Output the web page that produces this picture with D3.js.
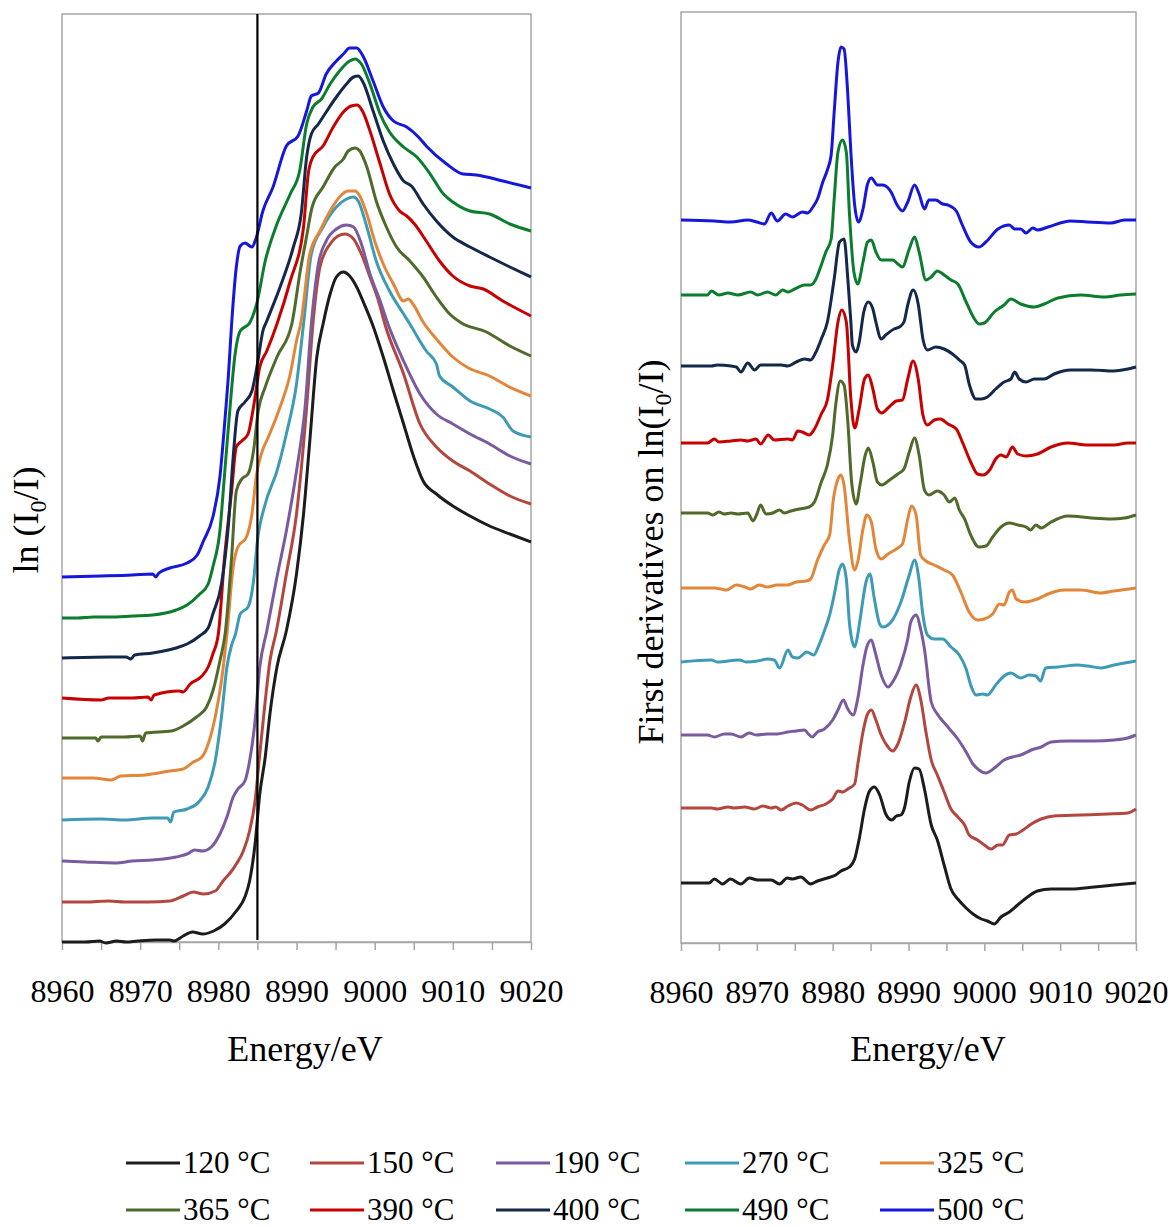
<!DOCTYPE html>
<html><head><meta charset="utf-8">
<script src="https://cdn.jsdelivr.net/npm/d3@7"></script>
<style>
body{margin:0;background:#fff}
text{font-family:"Liberation Serif","Times New Roman",serif;fill:#000}
</style>
</head><body>
<svg id="chart" width="1171" height="1227"></svg>
<script>
// ---------------- data ----------------
const seriesLabels = ["120 °C","150 °C","190 °C","270 °C","325 °C","365 °C","390 °C","400 °C","490 °C","500 °C"];
const seriesColors = ["#1c1c1c","#b3473f","#7a5c9e","#3d9bb5","#e2873a","#4f6a2b","#c80000","#13284a","#0b7d2d","#1717dc"];
const energyTicks = [8960,8970,8980,8990,9000,9010,9020];
const edgeEnergy = 8985;

// left panel: normalised ln(I0/I), stacked (arbitrary units)
const xanes120 = [[8960,0.00],[8963,0.00],[8964.8,0.01],[8965.6,-0.01],[8967,0.01],[8968.2,0.00],[8969.7,0.01],[8972,0.02],[8973.8,0.02],[8974.3,0.01],[8975.5,0.06],[8976.7,0.10],[8978,0.08],[8979.4,0.11],[8980.8,0.18],[8982.3,0.31],[8983.4,0.45],[8984,0.61],[8984.7,0.98],[8985.3,1.48],[8986,1.85],[8986.6,2.28],[8987.5,2.75],[8988.7,3.11],[8990,3.68],[8990.9,4.28],[8991.7,5.01],[8992.6,5.85],[8993.4,6.18],[8994.3,6.48],[8995.1,6.65],[8996,6.70],[8996.8,6.66],[8997.7,6.55],[8998.5,6.41],[8999.7,6.18],[9001.1,5.85],[9002.4,5.51],[9003.7,5.18],[9005,4.85],[9006.2,4.61],[9007.9,4.48],[9010,4.36],[9012.2,4.26],[9014.7,4.16],[9017.3,4.08],[9020,4.00]];
const xanes150 = [[8960,0.40],[8963,0.40],[8966,0.41],[8968,0.40],[8971,0.40],[8973.8,0.41],[8975.5,0.46],[8976.8,0.50],[8978.1,0.48],[8979.6,0.51],[8980.6,0.61],[8981.7,0.71],[8982.3,0.78],[8983.2,0.91],[8984,1.11],[8984.7,1.41],[8985.3,1.88],[8986,2.41],[8986.6,2.81],[8987.4,3.10],[8988.7,3.68],[8990,4.28],[8991.3,5.35],[8992.1,6.18],[8993,6.75],[8994.3,6.98],[8995.3,7.06],[8996.2,7.08],[8997.3,7.03],[8998.3,6.88],[8999.4,6.65],[9000.5,6.41],[9001.3,6.18],[9003.7,5.68],[9005.8,5.18],[9007.9,4.95],[9010,4.81],[9012.2,4.71],[9014.7,4.58],[9017.3,4.46],[9020,4.38]];
const xanes190 = [[8960,0.81],[8963,0.80],[8966.8,0.79],[8969,0.81],[8971.6,0.82],[8974.6,0.85],[8976,0.88],[8977,0.92],[8978,0.91],[8979.1,0.95],[8980.2,1.08],[8981.1,1.25],[8981.9,1.45],[8982.5,1.53],[8983.4,1.61],[8984,1.81],[8984.7,2.21],[8985.3,2.75],[8986.2,3.11],[8987.5,3.65],[8988.7,4.11],[8990,4.71],[8991.1,5.35],[8991.9,6.18],[8992.8,6.78],[8993.8,7.01],[8995.1,7.13],[8996.4,7.17],[8997.3,7.15],[8998.3,6.98],[8999.4,6.68],[9000.7,6.41],[9001.7,6.18],[9003.7,5.81],[9005.8,5.48],[9007.9,5.28],[9010,5.18],[9012.2,5.08],[9014.7,4.98],[9017.3,4.86],[9020,4.78]];
const xanes270 = [[8960,1.22],[8965,1.23],[8968,1.22],[8971.6,1.24],[8973.5,1.24],[8973.9,1.20],[8974.3,1.30],[8976,1.33],[8977.5,1.40],[8978.7,1.55],[8979.6,1.81],[8980.4,2.25],[8981.1,2.75],[8981.7,2.97],[8982.2,3.08],[8982.8,3.28],[8983.8,3.35],[8984.5,3.61],[8985,4.01],[8986,4.38],[8987.5,4.71],[8988.7,5.08],[8990,5.58],[8990.9,6.18],[8991.9,6.88],[8993.4,7.15],[8995.1,7.35],[8996.4,7.43],[8997.3,7.45],[8997.9,7.41],[8999,7.15],[9000.2,6.81],[9001.9,6.51],[9003.7,6.28],[9004.5,6.18],[9006.6,5.91],[9007.9,5.78],[9008.3,5.66],[9010,5.55],[9012.2,5.41],[9014.7,5.33],[9016.4,5.25],[9017.7,5.11],[9020,5.05]];
const xanes325 = [[8960,1.64],[8964,1.64],[8966.3,1.62],[8967.5,1.66],[8970.6,1.67],[8973.8,1.71],[8975.5,1.73],[8976.8,1.80],[8977.9,1.85],[8978.7,1.98],[8979.6,2.25],[8980.4,2.61],[8981.1,3.08],[8981.9,3.75],[8982.5,3.95],[8983.6,4.05],[8984.3,4.28],[8984.9,4.68],[8985.5,4.88],[8986.4,5.05],[8987.9,5.35],[8989.2,5.68],[8990,6.01],[8990.6,6.21],[8991.7,6.88],[8993,7.11],[8994.3,7.31],[8995.5,7.45],[8996.6,7.51],[8997.5,7.51],[8998.1,7.46],[8999,7.28],[9000,7.01],[9001.1,6.78],[9002.4,6.58],[9003.7,6.41],[9004.3,6.43],[9004.9,6.38],[9006.2,6.20],[9008,6.02],[9010,5.85],[9012,5.74],[9014.7,5.66],[9017,5.56],[9020,5.46]];
const xanes365 = [[8960,2.04],[8964.3,2.04],[8964.6,2.01],[8965,2.05],[8968,2.05],[8970,2.06],[8970.3,2.01],[8970.7,2.09],[8974,2.11],[8975.5,2.16],[8977.2,2.25],[8978.5,2.35],[8979.3,2.51],[8980.2,2.81],[8980.9,3.10],[8981.7,3.85],[8982.3,4.51],[8983,4.63],[8983.8,4.68],[8984.5,4.91],[8985.1,5.31],[8986,5.55],[8987.5,5.85],[8989.4,6.18],[8990.5,6.72],[8991.3,7.06],[8992,7.35],[8993.4,7.55],[8994.9,7.75],[8996,7.83],[8996.6,7.91],[8997.5,7.94],[8998.1,7.91],[8999,7.75],[9000.2,7.41],[9001.5,7.15],[9002.8,6.95],[9004.5,6.81],[9006.2,6.65],[9007.9,6.45],[9009.6,6.28],[9011.1,6.19],[9014.3,6.10],[9017.3,5.96],[9020,5.86]];
const xanes390 = [[8960,2.44],[8965,2.42],[8966,2.44],[8969,2.44],[8971,2.45],[8971.4,2.42],[8971.8,2.47],[8975,2.51],[8975.5,2.50],[8976.4,2.58],[8977.9,2.66],[8978.7,2.75],[8979.3,2.88],[8980,3.08],[8980.8,3.85],[8981.7,4.51],[8982.3,4.95],[8983,5.01],[8983.8,5.08],[8984.5,5.35],[8985.3,5.75],[8986.2,5.91],[8987.5,6.18],[8989.2,6.61],[8990.9,7.15],[8991.5,7.68],[8992.1,7.85],[8993.4,7.96],[8994.7,8.15],[8996,8.30],[8997,8.36],[8997.8,8.37],[8998.5,8.30],[8999.4,8.11],[9000.7,7.78],[9001.9,7.48],[9003.2,7.31],[9004.1,7.26],[9005.1,7.18],[9006.6,7.01],[9008.3,6.81],[9010,6.66],[9012.2,6.56],[9013.9,6.53],[9016.4,6.41],[9020,6.26]];
const xanes400 = [[8960,2.84],[8966,2.85],[8968.2,2.85],[8968.8,2.83],[8969.3,2.87],[8971.6,2.89],[8974.6,2.94],[8976,2.98],[8977.6,3.06],[8978.7,3.14],[8979.3,3.28],[8980.4,3.58],[8981.3,4.18],[8981.9,4.85],[8982.5,5.31],[8983.4,5.40],[8984.3,5.51],[8985,5.78],[8985.7,6.11],[8986.2,6.21],[8987.9,6.55],[8989.6,6.95],[8990.6,7.28],[8991.3,7.85],[8991.9,8.08],[8992.8,8.18],[8993.8,8.30],[8995.1,8.45],[8996.4,8.58],[8997.3,8.65],[8997.9,8.66],[8998.5,8.60],[8999.8,8.31],[9001.1,8.01],[9002.4,7.78],[9003.7,7.61],[9004.7,7.56],[9006.2,7.38],[9007.9,7.21],[9010,7.05],[9012.2,6.95],[9014.7,6.85],[9017.3,6.75],[9020,6.65]];
const xanes490 = [[8960,3.24],[8962,3.24],[8964,3.25],[8966,3.25],[8969,3.26],[8971.6,3.27],[8974.6,3.32],[8976,3.37],[8977.5,3.47],[8978.7,3.58],[8979.3,3.75],[8980.2,4.11],[8980.8,4.68],[8981.5,5.35],[8982.1,5.85],[8982.8,6.11],[8984,6.19],[8984.9,6.38],[8986,6.81],[8987.5,7.18],[8989.2,7.48],[8990.4,7.71],[8991.3,8.18],[8992.1,8.35],[8993.2,8.43],[8994.3,8.58],[8995.5,8.71],[8996.8,8.81],[8997.5,8.83],[8998.3,8.78],[8999.4,8.58],[9000.7,8.28],[9001.9,8.10],[9003.7,7.95],[9005.4,7.85],[9007.1,7.68],[9008.8,7.48],[9010,7.40],[9012.2,7.31],[9014.7,7.28],[9017.3,7.18],[9020,7.11]];
const xanes500 = [[8960,3.65],[8965,3.66],[8969,3.67],[8971.6,3.68],[8972,3.65],[8972.4,3.69],[8973.8,3.74],[8976,3.79],[8977.3,3.87],[8978.1,4.01],[8979.3,4.25],[8980.2,4.65],[8980.8,5.18],[8981.3,5.68],[8981.7,6.18],[8982.3,6.75],[8982.8,6.96],[8983.4,6.99],[8984.3,6.95],[8984.8,7.03],[8985.7,7.31],[8987,7.55],[8988.7,7.96],[8990.2,8.06],[8991.3,8.31],[8991.9,8.46],[8992.8,8.49],[8993.8,8.68],[8995.1,8.81],[8996,8.88],[8996.8,8.94],[8997.7,8.94],[8998.5,8.86],[8999.8,8.61],[9001.1,8.35],[9002.4,8.21],[9004.1,8.15],[9005.6,8.05],[9006.6,7.96],[9009.2,7.78],[9011.3,7.68],[9013,7.67],[9016.4,7.61],[9020,7.54]];

// right panel: first derivatives, stacked (arbitrary units)
const deriv120 = [[8960,0.60],[8963.7,0.60],[8964.4,0.64],[8965.5,0.59],[8966.5,0.64],[8967.9,0.59],[8969,0.65],[8970.1,0.63],[8971.9,0.63],[8973,0.59],[8974,0.65],[8974.7,0.64],[8975.8,0.66],[8977.1,0.59],[8978,0.62],[8979.3,0.65],[8980.4,0.68],[8981.1,0.72],[8982.2,0.76],[8982.9,0.84],[8983.5,1.04],[8984.2,1.34],[8984.8,1.51],[8985.5,1.56],[8986.2,1.48],[8987,1.29],[8987.8,1.23],[8988.4,1.27],[8989,1.28],[8989.5,1.36],[8990.1,1.61],[8990.8,1.75],[8991.4,1.74],[8992.1,1.54],[8993,1.18],[8993.8,1.03],[8994.7,0.78],[8995.6,0.54],[8996.5,0.44],[8997.6,0.35],[8998.5,0.29],[8999.6,0.24],[9000.4,0.22],[9001.3,0.19],[9002.2,0.26],[9003.3,0.31],[9004.4,0.38],[9005.7,0.46],[9007,0.52],[9008.8,0.54],[9011.4,0.54],[9014.5,0.56],[9017.1,0.58],[9020,0.60]];
const deriv150 = [[8960,1.35],[8964,1.35],[8964.8,1.34],[8966.2,1.36],[8967,1.35],[8968.4,1.36],[8969.7,1.34],[8970.8,1.37],[8971.9,1.35],[8972.5,1.36],[8973.2,1.33],[8974.1,1.37],[8975.2,1.40],[8976,1.38],[8977.1,1.33],[8978,1.36],[8979.1,1.39],[8980,1.44],[8980.7,1.52],[8981.3,1.51],[8982,1.54],[8982.9,1.59],[8983.3,1.78],[8984,2.11],[8984.6,2.29],[8985.1,2.33],[8985.7,2.23],[8986.4,2.08],[8987.3,1.96],[8987.9,1.92],[8988.6,1.99],[8989.5,2.21],[8990.3,2.46],[8991,2.58],[8991.6,2.44],[8992.3,2.11],[8993,1.83],[8993.8,1.68],[8994.7,1.51],[8995.6,1.34],[8996.5,1.26],[8997.4,1.18],[8998,1.08],[8999.1,1.03],[9000,0.98],[9000.9,0.94],[9001.8,0.98],[9002.4,0.98],[9003.3,1.08],[9004.2,1.09],[9005.1,1.13],[9006.2,1.19],[9007.5,1.24],[9009.2,1.27],[9012.7,1.28],[9016.3,1.29],[9018.9,1.30],[9020,1.34]];
const deriv190 = [[8960,2.08],[8963.5,2.08],[8964.4,2.06],[8965.7,2.09],[8966.6,2.09],[8967.9,2.06],[8969,2.10],[8969.9,2.08],[8971.4,2.09],[8972.7,2.09],[8974.1,2.11],[8975.2,2.12],[8976.3,2.13],[8976.8,2.09],[8977.3,2.06],[8978,2.11],[8978.9,2.14],[8980,2.23],[8980.7,2.33],[8981.4,2.43],[8982,2.34],[8982.7,2.28],[8983.3,2.44],[8984,2.78],[8984.5,2.96],[8985.1,3.03],[8985.6,2.91],[8986.4,2.68],[8987.3,2.56],[8987.9,2.61],[8989,2.79],[8989.9,3.04],[8990.3,3.21],[8991,3.28],[8991.6,3.14],[8992.1,2.94],[8993,2.41],[8993.8,2.29],[8995.2,2.16],[8996.5,2.04],[8997.6,1.91],[8998.5,1.79],[8999.3,1.73],[9000.2,1.70],[9001.5,1.76],[9002.6,1.83],[9003.7,1.86],[9004.8,1.88],[9006.2,1.93],[9007.5,1.96],[9008.8,2.01],[9011,2.02],[9014.5,2.02],[9017.1,2.03],[9018.9,2.05],[9020,2.08]];
const deriv270 = [[8960,2.81],[8964,2.83],[8964.8,2.81],[8967.7,2.83],[8968.6,2.81],[8970.1,2.82],[8971.4,2.84],[8972.3,2.83],[8973,2.75],[8974.1,2.93],[8974.7,2.86],[8975.4,2.85],[8976.6,2.91],[8977.5,2.88],[8978.2,2.98],[8978.9,3.12],[8979.6,3.28],[8980.2,3.48],[8980.9,3.74],[8981.3,3.79],[8981.8,3.64],[8982.2,3.21],[8982.6,3.01],[8982.9,2.96],[8983.3,3.08],[8983.7,3.28],[8984.4,3.61],[8984.9,3.69],[8985.5,3.44],[8986.2,3.19],[8986.6,3.16],[8987.7,3.21],[8989,3.41],[8990.1,3.68],[8990.8,3.83],[8991.3,3.68],[8991.9,3.28],[8992.5,3.08],[8993.4,3.04],[8994.5,3.04],[8995.6,2.96],[8996.7,2.88],[8997.6,2.74],[8998.2,2.58],[8998.9,2.48],[8999.8,2.49],[9000.4,2.48],[9001.5,2.58],[9002.6,2.67],[9003.5,2.70],[9004.8,2.65],[9005.9,2.68],[9006.8,2.67],[9007.4,2.62],[9008.1,2.75],[9009.7,2.76],[9012.3,2.78],[9013.6,2.77],[9015.4,2.75],[9017.1,2.78],[9020,2.82]];
const deriv325 = [[8960,3.55],[8964.4,3.55],[8965.3,3.54],[8966,3.53],[8967.3,3.58],[8968.4,3.56],[8969.2,3.54],[8970.3,3.58],[8971.4,3.56],[8972.7,3.58],[8974.1,3.58],[8975.2,3.61],[8976.5,3.62],[8977.1,3.64],[8978,3.83],[8978.9,3.98],[8979.6,4.08],[8980.1,4.44],[8980.7,4.64],[8981.1,4.68],[8981.5,4.58],[8982.2,4.04],[8982.9,3.73],[8983.3,3.81],[8984,4.14],[8984.5,4.28],[8985.1,4.21],[8985.7,3.94],[8986.4,3.84],[8987.3,3.89],[8988.4,3.94],[8989.2,3.99],[8989.9,4.24],[8990.4,4.37],[8991,4.28],[8991.6,3.88],[8992.3,3.82],[8993.4,3.78],[8994.7,3.73],[8995.8,3.68],[8996.9,3.51],[8998,3.31],[8999.1,3.23],[9000,3.24],[9001.1,3.29],[9002,3.39],[9002.6,3.38],[9003.3,3.51],[9003.7,3.53],[9004.2,3.44],[9005.3,3.41],[9007,3.44],[9008.4,3.49],[9010.5,3.53],[9012.7,3.53],[9015.4,3.50],[9017.1,3.52],[9020,3.55]];
const deriv365 = [[8960,4.30],[8963.5,4.30],[8964.2,4.28],[8965,4.31],[8965.7,4.29],[8966.6,4.30],[8967.5,4.29],[8968.8,4.30],[8969.5,4.22],[8970,4.29],[8970.5,4.38],[8971.2,4.29],[8972.1,4.30],[8973,4.33],[8973.6,4.30],[8974.5,4.32],[8975.6,4.34],[8976.9,4.36],[8977.6,4.41],[8978.5,4.61],[8979.3,4.78],[8980,5.08],[8980.4,5.38],[8981,5.62],[8981.5,5.58],[8982,5.21],[8982.5,4.61],[8983.1,4.39],[8983.6,4.58],[8984.3,4.88],[8984.7,4.95],[8985.3,4.81],[8985.9,4.61],[8986.5,4.58],[8987.5,4.63],[8988.6,4.69],[8989.4,4.74],[8990.1,4.91],[8990.8,5.05],[8991.4,4.88],[8992.1,4.53],[8992.7,4.48],[8993.8,4.52],[8994.7,4.48],[8995.4,4.41],[8996.1,4.45],[8996.7,4.33],[8997.4,4.24],[8998.2,4.08],[8999.3,3.96],[9000.2,3.97],[9001.1,4.06],[9002.2,4.16],[9003.3,4.20],[9004.4,4.18],[9005.5,4.16],[9006.1,4.13],[9006.8,4.18],[9007.5,4.15],[9008.8,4.21],[9011,4.27],[9014.1,4.25],[9016.7,4.24],[9018.5,4.25],[9020,4.28]];
const deriv390 = [[8960,5.00],[8963.5,5.00],[8964.4,5.04],[8965,5.01],[8966.6,5.02],[8967.9,5.03],[8968.8,5.02],[8969.9,5.04],[8970.5,4.99],[8971.5,5.08],[8972.3,5.03],[8974.1,5.04],[8974.7,5.03],[8975.4,5.12],[8976,5.11],[8976.9,5.08],[8977.6,5.14],[8978.5,5.29],[8979.3,5.43],[8980,5.78],[8980.7,6.21],[8981.2,6.33],[8981.8,6.21],[8982.4,5.44],[8982.9,5.15],[8983.5,5.34],[8984.2,5.64],[8984.7,5.68],[8985.3,5.54],[8985.9,5.34],[8986.5,5.30],[8987.3,5.35],[8988.4,5.42],[8989.2,5.43],[8989.9,5.64],[8990.6,5.82],[8991.3,5.63],[8991.9,5.28],[8992.5,5.18],[8993.4,5.23],[8994.2,5.24],[8995.2,5.19],[8996.3,5.14],[8997.1,5.01],[8998.2,4.81],[8999.1,4.69],[8999.8,4.68],[9000.7,4.73],[9001.5,4.84],[9002.2,4.88],[9002.9,4.86],[9003.7,4.96],[9004.4,4.89],[9005.5,4.87],[9007,4.89],[9008.8,4.96],[9011,5.00],[9013.6,4.98],[9017.1,4.98],[9018.9,5.00],[9020,5.00]];
const deriv400 = [[8960,5.77],[8964,5.77],[8964.8,5.78],[8966.6,5.77],[8967.3,5.76],[8967.9,5.71],[8968.8,5.80],[8969.7,5.73],[8970.5,5.78],[8973.2,5.78],[8974.1,5.77],[8975.2,5.81],[8976.3,5.84],[8977.1,5.83],[8977.8,5.91],[8978.5,6.04],[8979.3,6.21],[8980.2,6.64],[8980.9,7.01],[8981.5,7.04],[8982,6.64],[8982.4,6.21],[8982.6,5.98],[8983.1,5.91],[8983.5,6.01],[8984.1,6.31],[8984.7,6.41],[8985.3,6.34],[8985.7,6.21],[8986.4,6.04],[8987,6.08],[8988.1,6.14],[8988.8,6.16],[8989.4,6.21],[8989.9,6.38],[8990.6,6.53],[8991.3,6.38],[8991.6,6.21],[8991.9,6.04],[8992.5,5.93],[8993.6,5.96],[8994.7,5.94],[8995.8,5.89],[8996.7,5.83],[8997.4,5.78],[8998,5.59],[8998.9,5.44],[8999.6,5.44],[9000.4,5.46],[9001.5,5.54],[9002.6,5.61],[9003.5,5.64],[9004,5.71],[9004.6,5.64],[9005.5,5.61],[9006.6,5.64],[9007.9,5.64],[9009.2,5.69],[9011.4,5.73],[9014.1,5.73],[9017.1,5.72],[9018.9,5.74],[9020,5.76]];
const deriv490 = [[8960,6.48],[8963.5,6.48],[8964,6.52],[8965,6.48],[8966.2,6.50],[8967.5,6.48],[8969.2,6.51],[8970.1,6.48],[8971.4,6.51],[8972.5,6.48],[8973.4,6.53],[8974.1,6.51],[8975,6.54],[8976.3,6.58],[8977.1,6.58],[8977.8,6.64],[8978.5,6.78],[8979.1,6.91],[8979.8,7.04],[8980.2,7.44],[8980.7,7.91],[8981.3,8.03],[8981.8,7.91],[8982.2,7.31],[8982.8,6.71],[8983.3,6.59],[8984,6.81],[8984.6,7.01],[8985.1,7.03],[8985.7,6.91],[8986.4,6.83],[8987.9,6.83],[8988.6,6.79],[8989.2,6.76],[8990.1,6.94],[8990.8,7.06],[8991.4,6.91],[8992.3,6.63],[8993,6.66],[8993.8,6.72],[8994.7,6.68],[8995.6,6.63],[8996.5,6.59],[8997.6,6.41],[8998.7,6.24],[8999.3,6.19],[9000,6.20],[9001.3,6.31],[9002.6,6.38],[9003.5,6.44],[9004.8,6.39],[9006.6,6.36],[9007.9,6.39],[9009.7,6.45],[9012.7,6.48],[9015.8,6.46],[9018,6.48],[9020,6.49]];
const deriv500 = [[8960,7.23],[8964.4,7.22],[8966.6,7.21],[8968.8,7.23],[8970,7.21],[8971,7.19],[8971.9,7.30],[8972.7,7.22],[8973.8,7.29],[8974.7,7.26],[8976,7.31],[8976.7,7.30],[8977.4,7.36],[8978,7.44],[8978.7,7.61],[8979.3,7.73],[8979.8,7.88],[8980.2,8.31],[8980.7,8.81],[8981.1,8.96],[8981.5,8.94],[8982,8.48],[8982.4,7.91],[8982.9,7.38],[8983.4,7.21],[8984,7.34],[8984.6,7.59],[8985.1,7.65],[8985.9,7.58],[8986.6,7.58],[8987.7,7.51],[8988.5,7.38],[8989.2,7.32],[8989.9,7.41],[8990.8,7.58],[8991.4,7.49],[8992.1,7.34],[8992.7,7.43],[8993.6,7.43],[8994.5,7.39],[8995.2,7.38],[8996.3,7.32],[8997.1,7.18],[8998.2,7.01],[8999.3,6.96],[9000.2,7.01],[9001.8,7.14],[9003.3,7.18],[9004,7.14],[9004.8,7.14],[9005.5,7.10],[9006.4,7.15],[9007,7.13],[9008.4,7.16],[9011.4,7.22],[9013.6,7.21],[9016.7,7.20],[9018.5,7.23],[9020,7.23]];

const xanesSeries = [xanes120,xanes150,xanes190,xanes270,xanes325,xanes365,xanes390,xanes400,xanes490,xanes500];
const derivSeries = [deriv120,deriv150,deriv190,deriv270,deriv325,deriv365,deriv390,deriv400,deriv490,deriv500];

// ---------------- drawing ----------------
const svg = d3.select("#chart");
const frameColor = "#a6a6a6";

const panels = [
  {series: xanesSeries, x: d3.scaleLinear().domain([8960,9020]).range([62,531]),
   y: d3.scaleLinear().domain([0,9.28]).range([942,14]), marker: true,
   title: "Energy/eV", titleX: 305, yTitle: ["ln (I","0","/I)"], yTitleX: 38, yTitleY: 520},
  {series: derivSeries, x: d3.scaleLinear().domain([8960,9020]).range([681,1136]),
   y: d3.scaleLinear().domain([0,9.31]).range([943,12]), marker: false,
   title: "Energy/eV", titleX: 928, yTitle: ["First derivatives on ln(I","0","/I)"], yTitleX: 663, yTitleY: 552}
];

panels.forEach(p => {
  const [x0,x1] = p.x.range(), [yb,yt] = p.y.range();
  const g = svg.append("g");
  g.append("rect").attr("x",x0).attr("y",yt).attr("width",x1-x0).attr("height",yb-yt)
    .attr("fill","none").attr("stroke",frameColor).attr("stroke-width",1.5);

  const axis = d3.axisBottom(p.x).tickValues(d3.range(8960,9021,5))
    .tickFormat(d => d % 10 === 0 ? d : "").tickSize(8).tickSizeOuter(0).tickPadding(52);
  const ax = g.append("g").attr("transform",`translate(0,${yb})`).call(axis);
  ax.attr("font-family",null);
  ax.select(".domain").attr("stroke",frameColor).attr("stroke-width",1.5);
  ax.selectAll(".tick line").attr("stroke",frameColor).attr("stroke-width",1.5);
  ax.selectAll(".tick text").attr("font-size",32).style("font-family","'Liberation Serif', serif").attr("fill","#000").attr("dy",0);

  const line = d3.line().x(d => p.x(d[0])).y(d => p.y(d[1])).curve(d3.curveMonotoneX);
  p.series.forEach((s,i) => {
    g.append("path").datum(s).attr("d",line).attr("fill","none")
      .attr("stroke",seriesColors[i]).attr("stroke-width",3).attr("stroke-linejoin","round");
  });

  if (p.marker) {
    g.append("line").attr("x1",p.x(edgeEnergy)).attr("x2",p.x(edgeEnergy))
      .attr("y1",yt).attr("y2",yb-2).attr("stroke","#000").attr("stroke-width",2.2);
  }

  g.append("text").attr("x",p.titleX).attr("y",1061).attr("text-anchor","middle")
    .attr("font-size",36).text(p.title);

  const yt2 = g.append("text").attr("transform",`translate(${p.yTitleX},${p.yTitleY}) rotate(-90)`)
    .attr("text-anchor","middle").attr("font-size",36);
  yt2.append("tspan").text(p.yTitle[0]);
  yt2.append("tspan").attr("font-size",24).attr("dy",8).text(p.yTitle[1]);
  yt2.append("tspan").attr("dy",-8).text(p.yTitle[2]);
});

// legend
const legendX = [126,310,496,685,880];
const legendY = [1163,1210];
const leg = svg.append("g");
seriesLabels.forEach((lab,i) => {
  const lx = legendX[i % 5], ly = legendY[Math.floor(i / 5)];
  leg.append("line").attr("x1",lx).attr("x2",lx+54).attr("y1",ly).attr("y2",ly)
    .attr("stroke",seriesColors[i]).attr("stroke-width",3);
  leg.append("text").attr("x",lx+57).attr("y",ly+10).attr("font-size",31).text(lab);
});
</script>
</body></html>
